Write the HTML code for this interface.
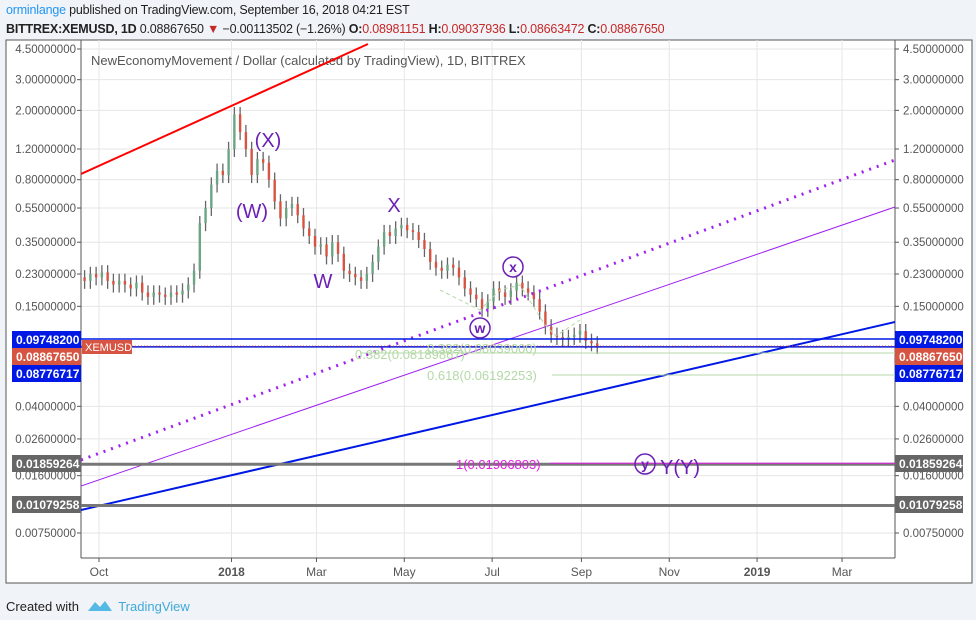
<!DOCTYPE html>
<html><head><meta charset="utf-8">
<style>
body{margin:0;width:976px;height:620px;background:#f0f3f7;font-family:"Liberation Sans",sans-serif;overflow:hidden;position:relative}
#hdr1{position:absolute;left:6px;top:3px;font-size:12.5px;color:#222;letter-spacing:-0.2px}
#hdr2{position:absolute;left:6px;top:22px;font-size:12.5px;color:#222;letter-spacing:-0.2px}
#hdr1 a{color:#2196f3;text-decoration:none}
.r{color:#c62828}
#foot{position:absolute;left:6px;top:595px;font-size:13px;color:#222}
#foot span{color:#3fa9d9}
svg{position:absolute;left:0;top:0}
</style></head><body>
<div id="hdr1"><a>orminlange</a> published on TradingView.com, September 16, 2018 04:21 EST</div>
<div id="hdr2"><b>BITTREX:XEMUSD, 1D</b> 0.08867650 <span class="r">▼</span> −0.00113502 (−1.26%) <b>O:</b><span class="r">0.08981151</span> <b>H:</b><span class="r">0.09037936</span> <b>L:</b><span class="r">0.08663472</span> <b>C:</b><span class="r">0.08867650</span></div>
<svg id="chart" width="976" height="620"></svg>
<div id="foot">Created with <svg width="26" height="16" style="position:relative;left:4px;top:3px;display:inline"><path d="M1 13 L8 4 L13 9 L18 3 L25 13 Z" fill="#55b9e6"/></svg> <span style="margin-left:6px">TradingView</span></div>
<script>
const closes=[.21,.23,.22,.235,.21,.20,.21,.20,.19,.205,.18,.17,.18,.175,.17,.18,.175,.185,.20,.24,.45,.55,.75,.90,.85,1.2,1.9,1.5,1.2,.85,1.05,1.0,.8,.6,.48,.55,.58,.5,.42,.38,.33,.34,.29,.35,.30,.24,.23,.22,.21,.23,.27,.33,.40,.38,.42,.44,.41,.40,.36,.32,.27,.25,.24,.26,.25,.22,.19,.175,.165,.145,.16,.19,.18,.17,.185,.205,.19,.18,.165,.14,.115,.103,.10,.097,.10,.103,.108,.095,.092,.0887];
const firstOpen=.22;
const yTicks=[4.5,3.0,2.0,1.2,0.8,0.55,0.35,0.23,0.15,0.04,0.026,0.016,0.0075];
const xTickLabels=["Oct","2018","Mar","May","Jul","Sep","Nov","2019","Mar"];
const xTickDays=[0,92,151,212,273,335,396,457,516];
const startDay=-10, stepDays=4;
const S=document.getElementById('chart'),NS='http://www.w3.org/2000/svg';
const L=81,R=895,T=40,B=558;
const y=p=>49-(Math.log(p)-Math.log(4.5))*75.66;
const x=d=>99+d*1.44;
function el(t,a,p){const e=document.createElementNS(NS,t);for(const k in a)e.setAttribute(k,a[k]);(p||S).appendChild(e);return e;}
let e=el('rect',{x:6,y:40,width:966,height:543,fill:'#fff',stroke:'#555','stroke-width':1});

const clip=el('clipPath',{id:'pc'});el('rect',{x:L,y:T,width:R-L,height:B-T},clip);
yTicks.forEach((v,i)=>{let g=el('line',{x1:L,x2:R,y1:y(v),y2:y(v),stroke:'#e6e6e6'});

[[L-5,'end',L-4],[R+8,'start',R]].forEach(([tx,an,lx])=>{
let t=el('text',{x:tx,y:y(v)+4,'font-size':11.5,fill:'#555','text-anchor':an});t.textContent=v.toFixed(8);

el('line',{x1:lx,x2:lx+4,y1:y(v),y2:y(v),stroke:'#555'});});});
xTickDays.forEach((d,i)=>{let g=el('line',{x1:x(d),x2:x(d),y1:T,y2:B,stroke:'#e6e6e6'});

el('line',{x1:x(d),x2:x(d),y1:B,y2:B+4,stroke:'#555'});
let t=el('text',{x:x(d),y:B+18,'font-size':12,fill:'#555','text-anchor':'middle','font-weight':/^\d/.test(xTickLabels[i])?'bold':'normal'});t.textContent=xTickLabels[i];
});
el('line',{x1:L,x2:L,y1:T,y2:B,stroke:'#555'});el('line',{x1:R,x2:R,y1:T,y2:B,stroke:'#555'});el('line',{x1:L,x2:R,y1:B,y2:B,stroke:'#555'});
let tt=el('text',{x:91,y:65,'font-size':13,fill:'#555'});tt.textContent='NewEconomyMovement / Dollar (calculated by TradingView), 1D, BITTREX';

const P=el('g',{'clip-path':'url(#pc)'});
closes.forEach((c,i)=>{const o=i?closes[i-1]:firstOpen;const cx=x(startDay+i*stepDays);
const hi=Math.max(o,c)*1.1,lo=Math.min(o,c)*0.9;
el('line',{x1:cx,x2:cx,y1:y(hi),y2:y(lo),stroke:'#666','stroke-width':1.3},P);
let b=el('rect',{x:cx-1.2,y:Math.min(y(o),y(c)),width:2.4,height:Math.max(1,Math.abs(y(o)-y(c))),fill:c>=o?'#6ba583':'#d75442'},P);
});
function ln(n,a){let l=el('line',a,P);return l;}
ln('resistance-trendline',{x1:81,y1:174,x2:368,y2:44,stroke:'#f00','stroke-width':2});
ln('dotted-channel-line',{x1:81,y1:460,x2:895,y2:160,stroke:'#a020f0','stroke-width':3,'stroke-dasharray':'2 6'});
ln('thin-channel-line',{x1:81,y1:486,x2:895,y2:207,stroke:'#a020f0','stroke-width':1});
ln('support-trendline',{x1:81,y1:510,x2:895,y2:322,stroke:'#0018e6','stroke-width':2});
ln('level-097',{x1:81,y1:y(.097482),x2:895,y2:y(.097482),stroke:'#0018e6','stroke-width':1.5});
ln('level-0877',{x1:81,y1:y(.08776717),x2:895,y2:y(.08776717),stroke:'#0018e6','stroke-width':1.5});
ln('price-line',{x1:81,y1:y(.0886765),x2:895,y2:y(.0886765),stroke:'#c0392b','stroke-width':1,'stroke-dasharray':'1 2'});
ln('fib-0382-line',{x1:360,y1:353,x2:895,y2:353,stroke:'#b5d8a8'});
ln('fib-0618-line',{x1:552,y1:375,x2:895,y2:375,stroke:'#b5d8a8'});
ln('level-0186',{x1:81,y1:y(.01859264),x2:895,y2:y(.01859264),stroke:'#777','stroke-width':3});
ln('level-0108',{x1:81,y1:y(.01079258),x2:895,y2:y(.01079258),stroke:'#777','stroke-width':3});
ln('fib-1-line',{x1:550,y1:y(.01859264)-1,x2:895,y2:y(.01859264)-1,stroke:'#e020e0','stroke-width':1});
let zz=el('polyline',{points:'440,290 480,310 500,290 520,285 545,325 556,336 580,320',fill:'none',stroke:'#b5d8a8','stroke-dasharray':'4 3'},P);

function tx(n,s,xx,yy,sz,col,anchor){let t=el('text',{x:xx,y:yy,'font-size':sz,fill:col,'text-anchor':anchor||'start'},P);t.textContent=s;return t;}
tx('wave-label-X-paren','(X)',268,147,20,'#6a1fb5','middle');
tx('wave-label-W-paren','(W)',252,218,20,'#6a1fb5','middle');
tx('wave-label-W','W',323,288,20,'#6a1fb5','middle');
tx('wave-label-X','X',394,212,20,'#6a1fb5','middle');
[['circle-x',513,267,'x'],['circle-w',480,328,'w'],['circle-y',645,464,'y']].forEach(([n,cx,cy,s])=>{
el('circle',{cx,cy,r:10,fill:'none',stroke:'#6a1fb5','stroke-width':1.5},P);
let t=tx(n,s,cx,cy+5,14,'#6a1fb5','middle');t.setAttribute('font-weight','bold');});
tx('wave-label-YY','Y(Y)',680,474,20,'#6a1fb5','middle');
tx('fib-0382-b','0.382(0.08039000)',427,353,13,'#b5d8a8');
tx('fib-0382-a','0.382(0.08189867)',355,359,13,'#b5d8a8');
tx('fib-0618','0.618(0.06192253)',427,380,13,'#b5d8a8');
tx('fib-1','1(0.01906803)',456,469,13,'#e020e0');
let xb=el('rect',{x:82,y:340,width:50,height:14,fill:'#d75442'});
let xt=el('text',{x:85,y:351,'font-size':11,fill:'#fff'});xt.textContent='XEMUSD';
[[.097482,331,'#0018e6'],[.0886765,348,'#d75442'],[.08776717,365,'#0018e6'],[.01859264,455,'#666'],[.01079258,496,'#666']].forEach(([v,ty,c])=>{
[[12],[R]].forEach(([bx])=>{let r=el('rect',{x:bx,y:ty,width:bx<50?69:68,height:17,fill:c});
let t=el('text',{x:bx+4,y:ty+13,'font-size':12,fill:'#fff','font-weight':'bold'});t.textContent=v.toFixed(8);});});
</script>
</body></html>
